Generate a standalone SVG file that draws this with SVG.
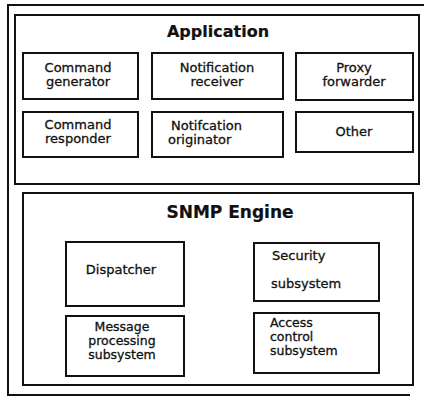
<svg xmlns="http://www.w3.org/2000/svg" width="424" height="396" viewBox="0 0 424 396">
  <style>
    .frame { fill: none; stroke: #111; stroke-width: 2; }
    .box { fill: #fff; stroke: #111; stroke-width: 2; }
    text { font-family: "DejaVu Sans", "Liberation Sans", sans-serif; fill: #111; stroke: #111; stroke-width: 0.3; }
    .title { font-weight: bold; font-size: 16px; text-anchor: middle; stroke-width: 0.2; }
    .lbl { font-size: 13px; text-anchor: middle; }
    .lbl-l { font-size: 13px; }
    .small { font-size: 12.5px; }
  </style>
  <rect x="0" y="0" width="424" height="396" fill="#fff" stroke="none"/>

  <!-- outer frame -->
  <path class="frame" d="M424,5 H8 V395 H410"/>

  <!-- Application layer -->
  <g id="application">
    <rect class="frame" x="15" y="15" width="404" height="169"/>
    <text class="title" x="218" y="37">Application</text>
  </g>
  <g id="command-generator">
    <rect class="box" x="23" y="53" width="115" height="46"/>
    <text class="lbl" x="78" y="72">Command</text>
    <text class="lbl" x="78" y="86">generator</text>
  </g>
  <g id="notification-receiver">
    <rect class="box" x="152" y="53" width="131" height="46"/>
    <text class="lbl" x="217" y="72">Notification</text>
    <text class="lbl" x="217" y="86">receiver</text>
  </g>
  <g id="proxy-forwarder">
    <rect class="box" x="296" y="53" width="117" height="47"/>
    <text class="lbl" x="354" y="72">Proxy</text>
    <text class="lbl" x="354" y="86">forwarder</text>
  </g>
  <g id="command-responder">
    <rect class="box" x="23" y="112" width="115" height="45"/>
    <text class="lbl" x="78" y="129">Command</text>
    <text class="lbl" x="78" y="143">responder</text>
  </g>
  <g id="notification-originator">
    <rect class="box" x="152" y="112" width="131" height="45"/>
    <text class="lbl-l" x="171" y="130">Notifcation</text>
    <text class="lbl-l" x="168" y="144">originator</text>
  </g>
  <g id="other">
    <rect class="box" x="296" y="112" width="117" height="40"/>
    <text class="lbl" x="354" y="136">Other</text>
  </g>

  <!-- SNMP engine -->
  <g id="snmp-engine">
    <rect class="frame" x="23" y="193" width="390" height="192"/>
    <text class="title" x="230" y="218" style="font-size:17px">SNMP Engine</text>
  </g>
  <g id="dispatcher">
    <rect class="box" x="66" y="242" width="118" height="64"/>
    <text class="lbl" x="121" y="274">Dispatcher</text>
  </g>
  <g id="message-processing">
    <rect class="box" x="66" y="316" width="118" height="60"/>
    <text class="lbl small" x="122" y="331">Message</text>
    <text class="lbl small" x="122" y="345">processing</text>
    <text class="lbl small" x="122" y="359">subsystem</text>
  </g>
  <g id="security-subsystem">
    <rect class="box" x="254" y="243" width="125" height="58"/>
    <text class="lbl-l" x="272" y="260">Security</text>
    <text class="lbl-l" x="271" y="288">subsystem</text>
  </g>
  <g id="access-control">
    <rect class="box" x="254" y="313" width="125" height="60"/>
    <text class="lbl-l small" x="270" y="327">Access</text>
    <text class="lbl-l small" x="270" y="341">control</text>
    <text class="lbl-l small" x="270" y="355">subsystem</text>
  </g>
</svg>
